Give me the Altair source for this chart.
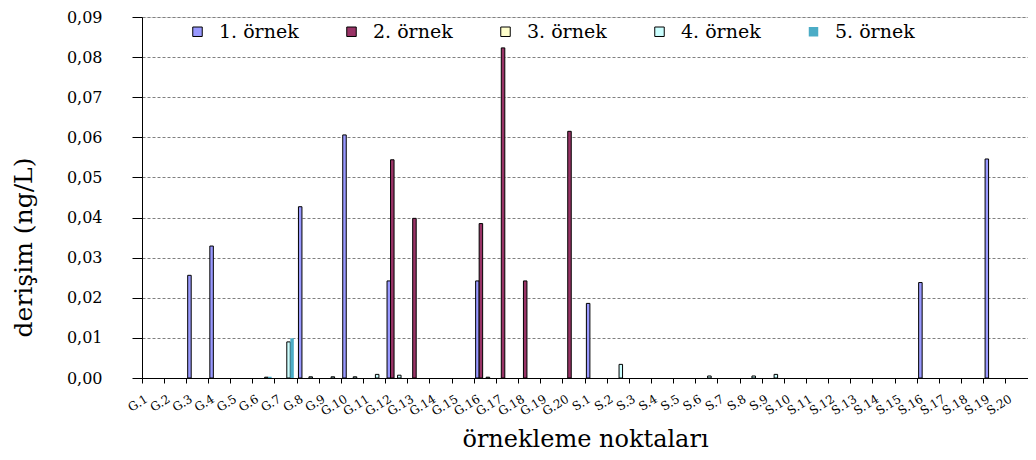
import altair as alt
import pandas as pd

categories = [
    "G.1", "G.2", "G.3", "G.4", "G.5", "G.6", "G.7", "G.8", "G.9", "G.10",
    "G.11", "G.12", "G.13", "G.14", "G.15", "G.16", "G.17", "G.18", "G.19", "G.20",
    "S.1", "S.2", "S.3", "S.4", "S.5", "S.6", "S.7", "S.8", "S.9", "S.10",
    "S.11", "S.12", "S.13", "S.14", "S.15", "S.16", "S.17", "S.18", "S.19", "S.20",
]

series_names = ["1. örnek", "2. örnek", "3. örnek", "4. örnek", "5. örnek"]

# values (ng/L); points without a visible bar are left out
ornek1 = {"G.3": 0.0256, "G.4": 0.0329, "G.8": 0.0427, "G.10": 0.0606, "G.12": 0.0242,
          "G.16": 0.0242, "S.1": 0.0186, "S.16": 0.0238, "S.19": 0.0546}
ornek2 = {"G.12": 0.0544, "G.13": 0.0398, "G.16": 0.0385, "G.17": 0.0823,
          "G.18": 0.0242, "G.20": 0.0615}
ornek3 = {}
ornek4 = {"G.6": 0.0002, "G.7": 0.0090, "G.8": 0.0003, "G.9": 0.0003, "G.10": 0.0003,
          "G.11": 0.0009, "G.12": 0.0007, "G.16": 0.0002, "S.2": 0.0034,
          "S.6": 0.0005, "S.8": 0.0005, "S.9": 0.0009}
ornek5 = {"G.6": 0.0003, "G.7": 0.0099}

fill_colors = ["#9999FF", "#993366", "#FFFFCC", "#CCFFFF", "#4BACC6"]
stroke_colors = ["#000000", "#000000", "#000000", "#000000", "transparent"]
y_ticks = [0.00, 0.01, 0.02, 0.03, 0.04, 0.05, 0.06, 0.07, 0.08, 0.09]

rows = []
for name, vals in zip(series_names, [ornek1, ornek2, ornek3, ornek4, ornek5]):
    for cat in categories:
        if cat in vals:
            rows.append({"nokta": cat, "seri": name, "deger": vals[cat]})
df = pd.DataFrame(rows)

FONT = "DejaVu Serif"

legend_cfg = dict(
    title=None, orient="none", legendX=46, legendY=5, direction="horizontal",
    symbolType="square", symbolSize=90, symbolStrokeWidth=1,
    labelFont=FONT, labelFontSize=19, labelColor="black", labelOffset=12,
    columnPadding=43, padding=0,
)

chart = alt.Chart(df).mark_bar(strokeWidth=1).encode(
    x=alt.X(
        "nokta:N", sort=categories,
        scale=alt.Scale(domain=categories, paddingInner=0, paddingOuter=0),
        axis=alt.Axis(
            title="örnekleme noktaları", labelAngle=-32,
            tickSize=5, tickColor="black", bandPosition=0,
            domainColor="black", labelPadding=10, labelOffset=-9, grid=False,
            labelFont=FONT, labelFontSize=12, labelColor="black",
            titleFont=FONT, titleFontSize=24, titleFontWeight="normal", titleColor="black",
            titleY=61, titleBaseline="middle",
        ),
    ),
    xOffset=alt.XOffset(
        "seri:N",
        scale=alt.Scale(domain=series_names, paddingInner=0, paddingOuter=0.66, align=0.3),
    ),
    y=alt.Y(
        "deger:Q",
        scale=alt.Scale(domain=[0, 0.09], nice=False, zero=True),
        axis=alt.Axis(
            title="derişim (ng/L)", values=y_ticks,
            labelExpr="replace(format(datum.value, '.2f'), '.', ',')",
            tickSize=10, tickColor="black", domainColor="black",
            labelFont=FONT, labelFontSize=16, labelColor="black", labelPadding=30,
            gridColor="#808080", gridDash=[3, 2], gridWidth=1,
            titleFont=FONT, titleFontSize=25, titleFontWeight="normal", titleColor="black",
            titleX=-119, titleY=230, titleAlign="center", titleBaseline="middle",
        ),
    ),
    color=alt.Color(
        "seri:N", scale=alt.Scale(domain=series_names, range=fill_colors),
        legend=alt.Legend(**legend_cfg),
    ),
    stroke=alt.Stroke(
        "seri:N", scale=alt.Scale(domain=series_names, range=stroke_colors),
        legend=alt.Legend(**legend_cfg),
    ),
).properties(
    width=886, height=361,
    padding={"left": 134, "top": 9, "right": 0, "bottom": 74},
    autosize=alt.AutoSizeParams(type="none"),
).configure_view(stroke=None).configure(background="white")

chart.save("out.html", embed_options={"renderer": "svg", "actions": False})
